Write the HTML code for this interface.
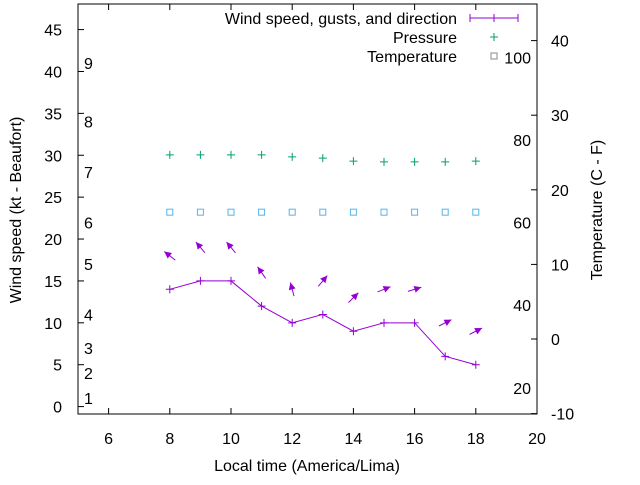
<!DOCTYPE html>
<html><head><meta charset="utf-8"><style>
body{margin:0;background:#fff}
svg{font-family:"Liberation Sans",sans-serif;font-size:16px}
</style></head><body>
<svg id="c" width="640" height="480" xmlns="http://www.w3.org/2000/svg"></svg>
<script>
const hours=[8,9,10,11,12,13,14,15,16,17,18];
const windKt=[14,15,15,12,10,11,9,10,10,6,5];
const gustKt=[18,19,19,16,14,15,13,14,14,10,9];
const headingDeg=[308,320,320,325,345,40,45,68,73,63,63];
const pressure=[76.4,76.4,76.4,76.4,75.9,75.6,74.9,74.7,74.7,74.7,74.9];
const tempC=[17,17,17,17,17,17,17,17,17,17,17];
const xTicks=[6,8,10,12,14,16,18,20];
const yTicks=[0,5,10,15,20,25,30,35,40,45];
const tTicks=[-10,0,10,20,30,40];
const pTicks=[20,40,60,80,100];
const beaufortKt=[1,4,7,11,17,22,28,34,41];
const beaufortLbl=["1","2","3","4","5","6","7","8","9"];

const L=78,R=537,T=4,B=414;
const X=v=>L+(v-5)/15*(R-L);
const Y=v=>406.6-v*8.378;
const YT=v=>339-v*7.46;
const YP=v=>140-(v-80)*4.13;
const svg=document.getElementById('c');
const NS='http://www.w3.org/2000/svg';
function mk(tag,attrs,txt){const e=document.createElementNS(NS,tag);for(const k in attrs)e.setAttribute(k,attrs[k]);if(txt!==undefined)e.textContent=txt;svg.appendChild(e);return e;}

let e=mk('rect',{x:L,y:T,width:R-L,height:B-T,fill:'none',stroke:'#000','stroke-width':1});


xTicks.forEach(v=>{
  let t=mk('path',{d:`M${X(v)} ${B}v-6M${X(v)} ${T}v6`,stroke:'#000'});
  
  
  let l=mk('text',{x:X(v),y:B+30,'text-anchor':'middle'},v);
  
  
});
yTicks.forEach(v=>{
  let t=mk('path',{d:`M${L} ${Y(v)}h6`,stroke:'#000'});
  
  
  let l=mk('text',{x:62,y:Y(v)+6,'text-anchor':'end'},v);
  
  
});
tTicks.forEach(v=>{
  let t=mk('path',{d:`M${R} ${YT(v)}h-6`,stroke:'#000'});
  
  
  let l=mk('text',{x:551,y:YT(v)+6,'text-anchor':'start'},v);
  
  
});
pTicks.forEach(v=>{
  let l=mk('text',{x:531,y:YP(v)+6,'text-anchor':'end'},v);
  
  
});
beaufortKt.forEach((v,i)=>{
  let l=mk('text',{x:84,y:Y(v)+6},beaufortLbl[i]);
  
  
});
e=mk('text',{x:307,y:471,'text-anchor':'middle'},'Local time (America/Lima)');


e=mk('text',{x:0,y:0,'text-anchor':'middle',transform:'translate(21,210) rotate(-90)'},'Wind speed (kt - Beaufort)');


e=mk('text',{x:0,y:0,'text-anchor':'middle',transform:'translate(602,210) rotate(-90)'},'Temperature (C - F)');



const purple='#9400d3';
e=mk('polyline',{points:hours.map((h,i)=>`${X(h)},${Y(windKt[i])}`).join(' '),fill:'none',stroke:purple,'stroke-width':1});


hours.forEach((h,i)=>{
  let p=mk('path',{d:`M${X(h)-4} ${Y(windKt[i])}h8M${X(h)} ${Y(windKt[i])-4}v8`,stroke:purple});
  
  
  const a=headingDeg[i]*Math.PI/180,dx=Math.sin(a),dy=-Math.cos(a),len=14;
  const cx=X(h),cy=Y(gustKt[i]);
  const hx=cx+dx*len/2,hy=cy+dy*len/2,tx=cx-dx*len/2,ty=cy-dy*len/2;
  const px=-dy,py=dx;
  let ar=mk('g',{});
  
  
  const ln=document.createElementNS(NS,'path');
  ln.setAttribute('d',`M${tx} ${ty}L${hx} ${hy}`);ln.setAttribute('stroke',purple);ar.appendChild(ln);
  const hd=document.createElementNS(NS,'path');
  hd.setAttribute('d',`M${hx} ${hy}L${hx-dx*7+px*3.5} ${hy-dy*7+py*3.5}L${hx-dx*7-px*3.5} ${hy-dy*7-py*3.5}Z`);
  hd.setAttribute('fill',purple);ar.appendChild(hd);
  let pp=mk('path',{d:`M${X(h)-4} ${YP(pressure[i])}h8M${X(h)} ${YP(pressure[i])-4}v8`,stroke:'#009e73'});
  
  
  let tp=mk('rect',{x:X(h)-3,y:YT(tempC[i])-3,width:6,height:6,fill:'none',stroke:'#56b4e9'});
  
  
});
// legend
const lg=[['Wind speed, gusts, and direction',18],['Pressure',37],['Temperature',56]];
lg.forEach(([t,y],i)=>{
  let l=mk('text',{x:457,y:y+6,'text-anchor':'end'},t);
  
  
});
e=mk('path',{d:'M470 18h48M470 14v8M518 14v8M494 14v8',stroke:purple});


e=mk('path',{d:'M490 37h8M494 33v8',stroke:'#009e73'});


e=mk('rect',{x:491,y:53,width:6,height:6,fill:'none',stroke:'#888'});


</script>
</body></html>
